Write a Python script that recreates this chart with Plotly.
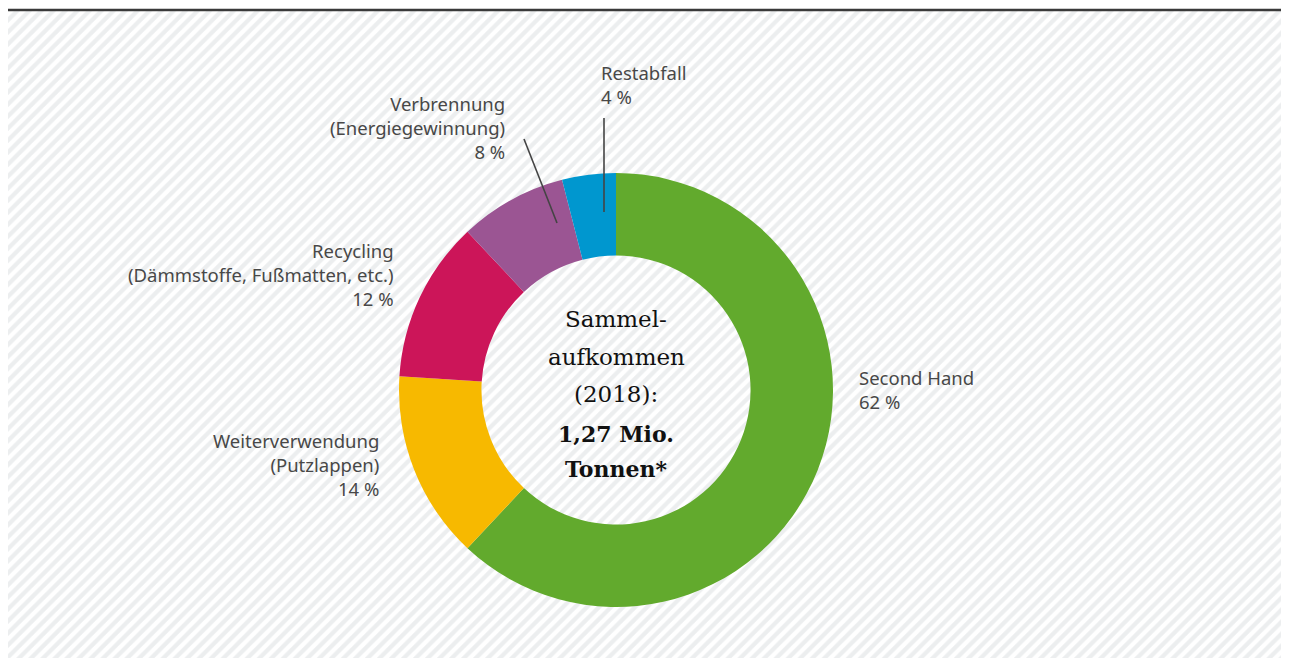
import plotly.graph_objects as go

# ---- data ----
categories = ["Second Hand", "Weiterverwendung (Putzlappen)", "Recycling (Dämmstoffe, Fußmatten, etc.)",
              "Verbrennung (Energiegewinnung)", "Restabfall"]
shares = [62, 14, 12, 8, 4]
colors = ["#62AA2D", "#F7B900", "#CC1559", "#9B5593", "#0097CF"]
label_texts = ["Second Hand<br>62 %",
               "Weiterverwendung<br>(Putzlappen)<br>14 %",
               "Recycling<br>(Dämmstoffe, Fußmatten, etc.)<br>12 %",
               "Verbrennung<br>(Energiegewinnung)<br>8 %",
               "Restabfall<br>4 %"]
center_lines = ["Sammel-", "aufkommen", "(2018):", "<b>1,27 Mio.</b>", "<b>Tonnen*</b>"]

# page is offset by the 8px body margin; work in page coordinates
OFF = 8
PW, PH = 1289, 658
W, H = PW - OFF, PH - OFF
cx, cy, r = 616, 390, 217

fig = go.Figure()

# hatched background
fig.add_trace(go.Scatter(
    x=[8, PW, PW, 8, 8], y=[11, 11, PH, PH, 11], mode="lines", fill="toself",
    line=dict(width=0), fillcolor="#ffffff",
    fillpattern=dict(shape="/", size=8.5, solidity=0.5, fgcolor="#dadddf", bgcolor="#ffffff"),
    hoverinfo="skip", showlegend=False))

fcx, fcy = cx - OFF, cy - OFF
fig.add_trace(go.Pie(
    labels=categories, values=shares, sort=False, direction="clockwise", rotation=0,
    hole=0.62, textinfo="none", hoverinfo="label+percent", showlegend=False,
    marker=dict(colors=colors, line=dict(width=0)),
    domain=dict(x=[(fcx - r) / W, (fcx + r) / W], y=[(H - fcy - r) / H, (H - fcy + r) / H])))

lab_font = dict(family="Noto Sans, Open Sans, sans-serif", size=18.5, color="#484848")
label_pos = [  # x, y(top), anchor
    (857, 363, "left"),
    (381, 426, "right"),
    (396, 236, "right"),
    (507, 89, "right"),
    (599, 58, "left"),
]
annotations = []
for txt, (x, y, anc) in zip(label_texts, label_pos):
    annotations.append(dict(x=x, y=y, xref="x", yref="y", text=txt, showarrow=False,
                            xanchor=anc, yanchor="top", align=anc, font=lab_font))

center_y = [319, 357, 394, 434, 469]
for i, (t, y) in enumerate(zip(center_lines, center_y)):
    annotations.append(dict(x=cx, y=y, xref="x", yref="y", text=t, showarrow=False,
                            xanchor="center", yanchor="middle",
                            font=dict(family="DejaVu Serif, serif", size=23 if i < 3 else 22, color="#111111")))

shapes = [
    dict(type="line", x0=8, x1=PW, y0=10, y1=10, xref="x", yref="y",
         line=dict(color="#3a3a3a", width=2.5), layer="above"),
    dict(type="line", x0=524, y0=139, x1=557, y1=223, xref="x", yref="y",
         line=dict(color="#444444", width=1.6), layer="above"),
    dict(type="line", x0=604, y0=118, x1=604, y1=212, xref="x", yref="y",
         line=dict(color="#444444", width=1.6), layer="above"),
]

fig.update_layout(
    width=W, height=H, margin=dict(l=0, r=0, t=0, b=0),
    paper_bgcolor="#ffffff", plot_bgcolor="rgba(0,0,0,0)",
    xaxis=dict(range=[OFF, PW], visible=False, fixedrange=True, domain=[0, 1]),
    yaxis=dict(range=[PH, OFF], visible=False, fixedrange=True, domain=[0, 1]),
    annotations=annotations, shapes=shapes, showlegend=False,
)

fig.write_html("out.html")
